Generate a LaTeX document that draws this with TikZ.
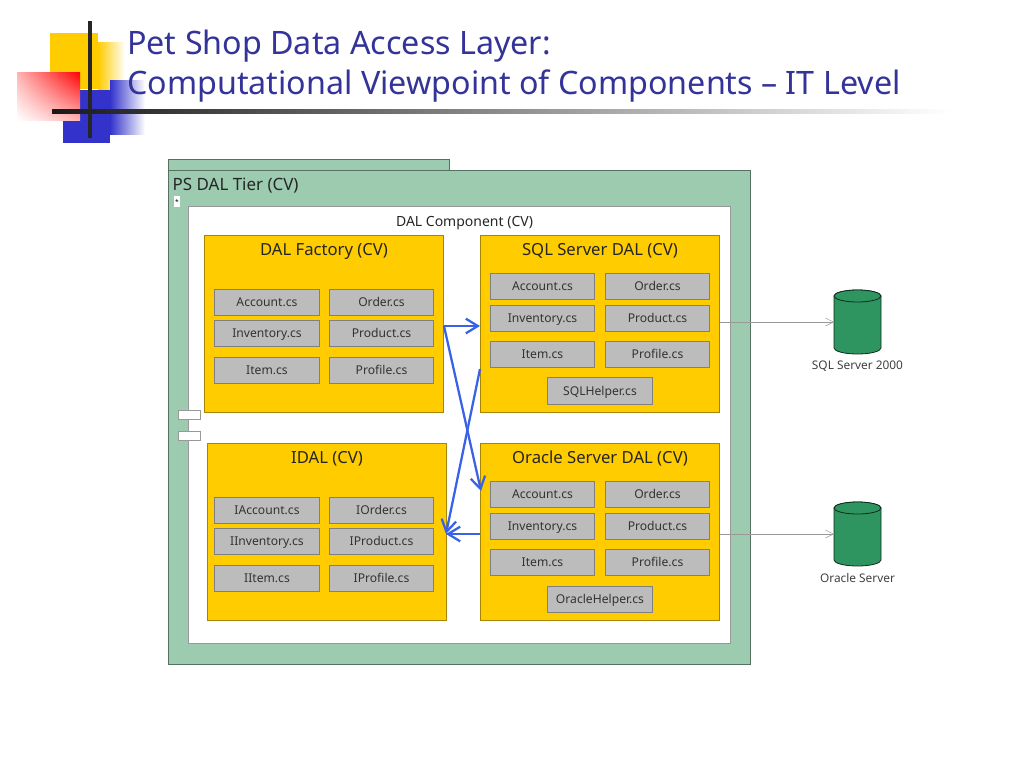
\documentclass[tikz,border=0pt]{standalone}
\usepackage{fontspec}
\setmainfont{Noto Sans}
\usetikzlibrary{arrows.meta,positioning,calc,shadings}

\definecolor{tiergreen}{HTML}{9CCBB0}
\definecolor{boxyellow}{HTML}{FFCC00}
\definecolor{filegray}{HTML}{BCBCBC}
\definecolor{titleblue}{HTML}{333399}
\definecolor{logoblue}{HTML}{3333CC}
\definecolor{cylgreen}{HTML}{2E9460}
\definecolor{linkblue}{HTML}{3A62E6}

\tikzset{
	tierbox/.style={draw=black!45!tiergreen, fill=tiergreen, line width=0.6pt, anchor=north west, inner sep=0pt},
	compbox/.style={draw=black!40, fill=white, line width=0.6pt, anchor=north west, inner sep=0pt},
	groupbox/.style={draw=black!35!boxyellow, fill=boxyellow, line width=0.6pt, anchor=north west, inner sep=0pt, minimum width=179.6pt, minimum height=132.4pt},
	grouptitle/.style={font=\fontsize{12.5}{14}\selectfont, text=black!85, text height=10.5pt, text depth=1.5pt},
	filebox/.style={draw=black!50, fill=filegray, line width=0.6pt, minimum width=78.5pt, minimum height=19.8pt, inner sep=0pt, font=\fontsize{9.1}{10}\selectfont, text=black!80, text height=7.5pt, text depth=1.1pt},
	dbcyl/.style={minimum width=35.25pt, minimum height=48pt, inner sep=0pt, outer sep=0pt},
	dbdrum/.style={draw=black!70!cylgreen, fill=cylgreen, line width=0.6pt},
	dblabel/.style={font=\fontsize{8.9}{10}\selectfont, text=black!75},
	bluelink/.style={draw=linkblue, line width=1.7pt, -{Straight Barb[length=9pt,width=11pt]}},
	graylink/.style={draw=black!40, line width=0.4pt, -{Straight Barb[length=6pt,width=6pt]}},
	portbox/.style={draw=black!40, fill=white, line width=0.4pt, minimum width=16.5pt, minimum height=6.75pt, inner sep=0pt}
}

% body and lid of a database, drawn on a named node
\newcommand{\drumon}[1]{
	\draw[dbdrum] ($(#1.north west)+(0,6)$) -- ($(#1.south west)+(0,-6)$)
	arc[start angle=180, end angle=360, x radius=17.625pt, y radius=4.5pt]
	-- ($(#1.north east)+(0,6)$)
	arc[start angle=0, end angle=180, x radius=17.625pt, y radius=4.5pt] -- cycle;
	\draw[dbdrum] ($(#1.north)+(0,6)$) ellipse[x radius=17.625pt, y radius=4.5pt];
}

\begin{document}
\begin{tikzpicture}[x=0.75pt,y=-0.75pt]
	\useasboundingbox (0,0) rectangle (1024,768);
	
	% slide decoration
	\fill[left color=boxyellow, right color=white] (98,42) rectangle (125,89);
	\fill[left color=logoblue, right color=white] (110,80) rectangle (145,134);
	\fill[boxyellow] (50,33) rectangle (98,89);
	\fill[logoblue] (63,90) rectangle (110,143);
	\fill[shading=bilinear interpolation, lower left=white, upper right=red, upper left=red!30, lower right=red!30] (17,72) rectangle (80,120);
	\fill[black!85] (88,21) rectangle (92,138);
	\fill[left color=black!90, middle color=black!50, right color=white] (52,109) rectangle (950,113);
	\node[anchor=west, text=titleblue, font=\fontsize{24.2}{30}\selectfont, align=left, inner sep=0pt] (slidetitle) at (127,66)
	{Pet Shop Data Access Layer:\\Computational Viewpoint of Components -- IT Level};
	
	% tier and component
	\node[tierbox, minimum width=210.75pt, minimum height=15pt] (tiertab) at (168,159) {};
	\node[tierbox, minimum width=436.6pt, minimum height=370.2pt] (tier) at (168,170) {};
	\node[compbox, minimum width=406.6pt, minimum height=327.8pt] (component) at (188,206) {};
	\node[anchor=west, font=\fontsize{12.7}{14}\selectfont, text=black!85] (tierlabel) at (168,185.5) {PS DAL Tier (CV)};
	\node[fill=white, minimum width=4.5pt, minimum height=8pt, inner sep=0pt, font=\fontsize{5}{5}\selectfont] (tiermark) at (177,201.5) {*};
	\node[font=\fontsize{10.5}{12}\selectfont, text=black!85] (complabel) at (464.5,223) {DAL Component (CV)};
	\node[portbox] (portone) at (189,414.5) {};
	\node[portbox] (porttwo) at (189,435.5) {};
	
	% component groups
	\node[groupbox] (factory) at (204,235) {};
	\node[groupbox] (sqldal) at (480,235) {};
	\node[groupbox] (idal) at (207,443) {};
	\node[groupbox] (oracledal) at (480,443) {};
	\node[grouptitle] (factorylabel) at (324,249) {DAL Factory (CV)};
	\node[grouptitle] (sqllabel) at (600,249) {SQL Server DAL (CV)};
	\node[grouptitle] (idallabel) at (327,457) {IDAL (CV)};
	\node[grouptitle] (oraclelabel) at (600,457) {Oracle Server DAL (CV)};
	
	\node[filebox] (faccount) at (267,302.5) {Account.cs};
	\node[filebox] (forder) at (381.5,302.5) {Order.cs};
	\node[filebox] (finventory) at (267,333.5) {Inventory.cs};
	\node[filebox] (fproduct) at (381.5,333.5) {Product.cs};
	\node[filebox] (fitem) at (267,370.5) {Item.cs};
	\node[filebox] (fprofile) at (381.5,370.5) {Profile.cs};
	
	\node[filebox] (saccount) at (542.5,286.5) {Account.cs};
	\node[filebox] (sorder) at (657.5,286.5) {Order.cs};
	\node[filebox] (sinventory) at (542.5,318.5) {Inventory.cs};
	\node[filebox] (sproduct) at (657.5,318.5) {Product.cs};
	\node[filebox] (sitem) at (542.5,354.5) {Item.cs};
	\node[filebox] (sprofile) at (657.5,354.5) {Profile.cs};
	\node[filebox] (shelper) at (600,391) {SQLHelper.cs};
	
	\node[filebox] (iaccount) at (267,510.5) {IAccount.cs};
	\node[filebox] (iorder) at (381.5,510.5) {IOrder.cs};
	\node[filebox] (iinventory) at (267,541.5) {IInventory.cs};
	\node[filebox] (iproduct) at (381.5,541.5) {IProduct.cs};
	\node[filebox] (iitem) at (267,578.5) {IItem.cs};
	\node[filebox] (iprofile) at (381.5,578.5) {IProfile.cs};
	
	\node[filebox] (oaccount) at (542.5,494.5) {Account.cs};
	\node[filebox] (oorder) at (657.5,494.5) {Order.cs};
	\node[filebox] (oinventory) at (542.5,526.5) {Inventory.cs};
	\node[filebox] (oproduct) at (657.5,526.5) {Product.cs};
	\node[filebox] (oitem) at (542.5,562.5) {Item.cs};
	\node[filebox] (oprofile) at (657.5,562.5) {Profile.cs};
	\node[filebox] (ohelper) at (600,599.5) {OracleHelper.cs};
	
	% databases
	\node[dbcyl] (sqldb) at (857.5,322) {};
	\node[dbcyl] (oracledb) at (857.5,534) {};
	\drumon{sqldb}
	\drumon{oracledb}
	\node[dblabel] (sqldblabel) at (857.5,366) {SQL Server 2000};
	\node[dblabel] (oracledblabel) at (857.5,578) {Oracle Server};
	
	% links
	\coordinate (factoryout) at (444,326);
	\coordinate (sqlin) at (480,326);
	\coordinate (sqlout) at (480,369);
	\coordinate (oraclein) at (481,491);
	\coordinate (oracleout) at (480,534);
	\coordinate (idalin) at (446,534);
	\coordinate (sqlport) at (720,322);
	\coordinate (oracleport) at (720,534);
	\draw[bluelink] (factoryout) -- (sqlin);
	\draw[bluelink] (factoryout) -- (oraclein);
	\draw[bluelink] (sqlout) -- (idalin);
	\draw[bluelink] (oracleout) -- (idalin);
	\draw[graylink] (sqlport) -- (sqldb.west);
	\draw[graylink] (oracleport) -- (oracledb.west);
	
\end{tikzpicture}
\end{document}
